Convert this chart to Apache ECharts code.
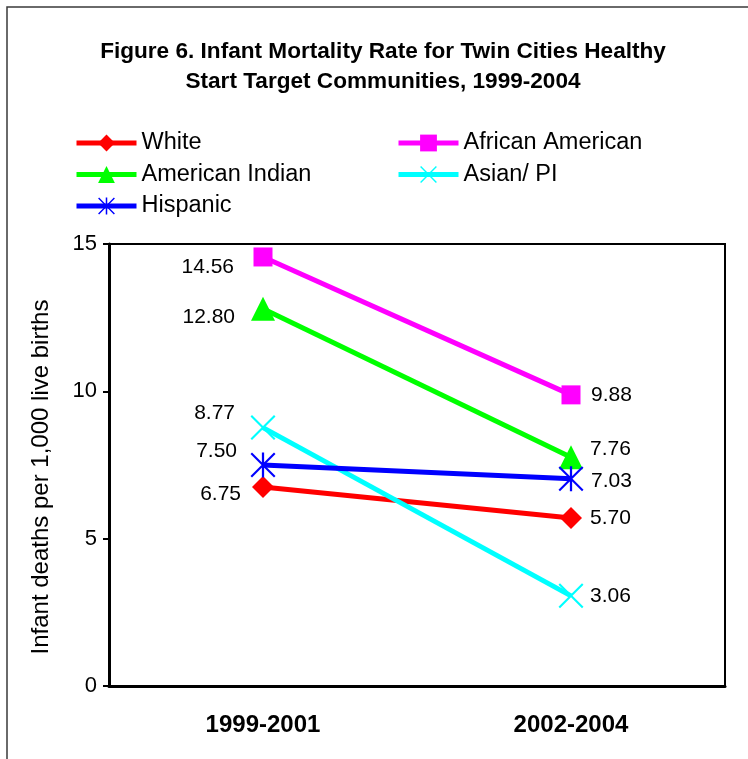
<!DOCTYPE html>
<html>
<head>
<meta charset="utf-8">
<script src="https://cdn.jsdelivr.net/npm/echarts@6/dist/echarts.min.js"></script>
<style>
  html, body { margin: 0; padding: 0; background: #fff; }
  #chart { width: 748px; height: 759px; }
</style>
</head>
<body>
<div id="chart"></div>
<script>
// Infant mortality (deaths per 1,000 live births) by period
const categories = ['1999-2001', '2002-2004'];
const white = [6.75, 5.70];
const africanAmerican = [14.56, 9.88];
const americanIndian = [12.80, 7.76];
const asianPI = [8.77, 3.06];
const hispanic = [7.50, 7.03];

const FONT = '"Liberation Sans", Arial, sans-serif';

// Thin "x" marker and asterisk marker drawn as filled outlines
const X_MARK = 'path://M0,0.6L0.6,0L5,4.4L9.4,0L10,0.6L5.6,5L10,9.4L9.4,10L5,5.6L0.6,10L0,9.4L4.4,5Z';
const STAR_MARK = 'path://M4.55,0L5.45,0L5.45,10L4.55,10Z' +
  'M0,0.6L0.6,0L10,9.4L9.4,10Z' +
  'M9.4,0L10,0.6L0.6,10L0,9.4Z';

// Value-label placement per point: [horizontal gap, vertical shift]
function labelAt(i, dx, dy) {
  return i === 0
    ? { align: 'right', offset: [-dx, dy] }
    : { align: 'left', offset: [dx, dy] };
}

function lineSeries(name, values, color, symbol, size, shifts) {
  return {
    name: name,
    type: 'line',
    symbol: symbol,
    symbolSize: size,
    data: values.map((v, i) => ({
      value: v,
      label: labelAt(i, shifts[i][0], shifts[i][1])
    })),
    lineStyle: { width: 5, color: color },
    itemStyle: { color: color },
    label: {
      show: true,
      position: ['50%', '50%'],
      verticalAlign: 'middle',
      formatter: p => p.value.toFixed(2),
      fontSize: 21,
      fontFamily: FONT,
      color: '#000'
    },
    emphasis: { disabled: true },
    animation: false
  };
}

const chart = echarts.init(document.getElementById('chart'), null, { renderer: 'canvas' });

const legendText = { fontSize: 23.5, fontFamily: FONT, color: '#000', lineHeight: 28 };

chart.setOption({
  backgroundColor: '#fff',
  animation: false,
  title: {
    text: 'Figure 6. Infant Mortality Rate for Twin Cities Healthy\nStart Target Communities, 1999-2004',
    left: 378,
    top: 32,
    textAlign: 'center',
    textStyle: { fontSize: 22.6, fontWeight: 'bold', fontFamily: FONT, color: '#000', lineHeight: 30 }
  },
  legend: [
    {
      data: ['White', 'American Indian', 'Hispanic'],
      orient: 'vertical', left: 69, top: 124,
      itemWidth: 60, itemHeight: 21, itemGap: 3.5,
      lineStyle: { width: 5 },
      textStyle: legendText,
      selectedMode: false
    },
    {
      data: ['African American', 'Asian/ PI'],
      orient: 'vertical', left: 391, top: 124,
      itemWidth: 60, itemHeight: 21, itemGap: 3.5,
      lineStyle: { width: 5 },
      textStyle: legendText,
      selectedMode: false
    }
  ],
  grid: {
    left: 109, right: 23, top: 244, bottom: 73,
    show: true, borderColor: '#000', borderWidth: 2, backgroundColor: '#fff'
  },
  xAxis: {
    type: 'category',
    data: categories,
    boundaryGap: true,
    axisLine: { lineStyle: { color: '#000', width: 3 } },
    axisTick: { show: false },
    axisLabel: { fontSize: 24, fontWeight: 'bold', fontFamily: FONT, color: '#000', margin: 27 },
    splitLine: { show: false }
  },
  yAxis: {
    type: 'value',
    min: 0, max: 15, interval: 5,
    name: 'Infant deaths per 1,000 live births',
    nameLocation: 'middle',
    nameRotate: 90,
    nameGap: 56,
    nameTextStyle: { fontSize: 24, fontFamily: FONT, color: '#000', padding: [0, 24, 0, 0] },
    axisLine: { show: true, lineStyle: { color: '#000', width: 3 } },
    axisTick: { show: true, length: 6, lineStyle: { color: '#000', width: 2 } },
    axisLabel: { fontSize: 22, fontFamily: FONT, color: '#000', margin: 12 },
    splitLine: { show: false }
  },
  graphic: [
    {
      type: 'rect', silent: true, z: 100,
      shape: { x: 7, y: 7, width: 820, height: 820 },
      style: { fill: 'none', stroke: '#3a3a3a', lineWidth: 1.5 }
    }
  ],
  series: [
    lineSeries('White', white, '#ff0000', 'diamond', 22, [[22, 7], [19, 0]]),
    lineSeries('African American', africanAmerican, '#ff00ff', 'rect', 19, [[29, 10], [20, 0]]),
    lineSeries('American Indian', americanIndian, '#00ff00', 'triangle', 24, [[28, 8], [19, -8]]),
    lineSeries('Asian/ PI', asianPI, '#00ffff', X_MARK, 25, [[28, -14], [19, 0]]),
    lineSeries('Hispanic', hispanic, '#0000ff', STAR_MARK, 25, [[26, -14], [20, 2]])
  ]
});
</script>
</body>
</html>
